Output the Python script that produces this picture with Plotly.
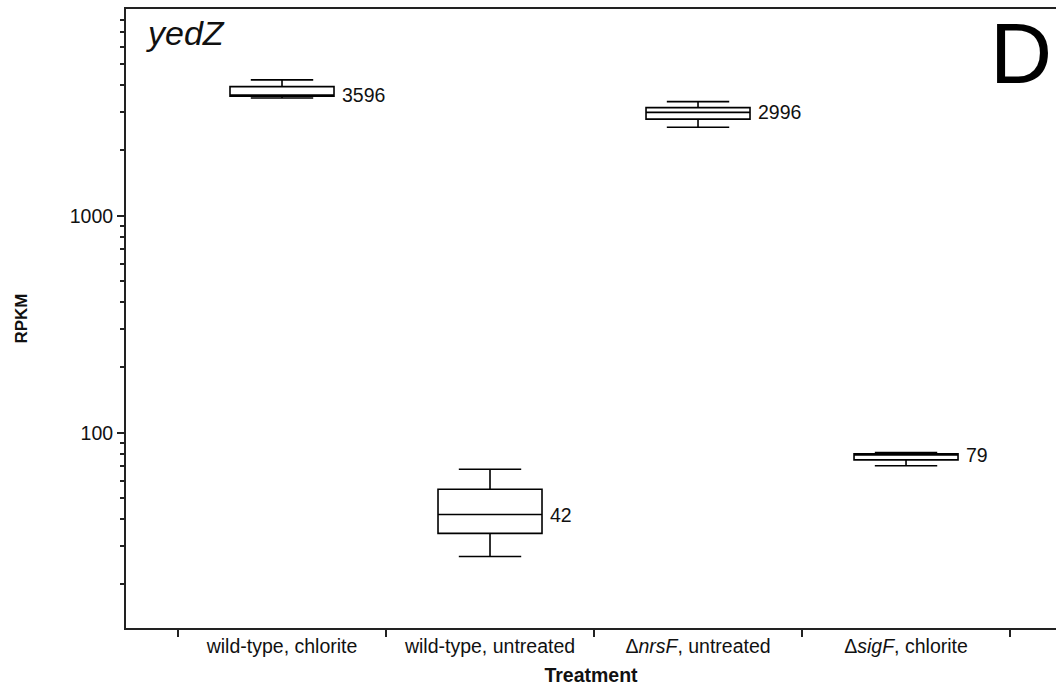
import math
import plotly.graph_objects as go

# Expression of yedZ (RPKM) per treatment: box summary statistics
categories = ["wild-type, chlorite", "wild-type, untreated", "ΔnrsF, untreated", "ΔsigF, chlorite"]
tick_labels = ["wild-type, chlorite", "wild-type, untreated", "Δ<i>nrsF</i>, untreated", "Δ<i>sigF</i>, chlorite"]
lower_fence = [3490, 26.9, 2560, 70.5]
q1 = [3560, 34.4, 2790, 75]
median = [3596, 42, 2996, 79]
q3 = [3940, 54.9, 3150, 80]
upper_fence = [4230, 67.9, 3360, 81]

y_major = [100, 1000]
y_minor = [20, 30, 40, 50, 60, 70, 80, 90,
           200, 300, 400, 500, 600, 700, 800, 900,
           2000, 3000, 4000, 5000, 6000, 7000, 8000]

FONT = "Liberation Sans, Arial, Helvetica, sans-serif"
AXIS = "#222222"
TXT = 19.5

fig = go.Figure()
fig.add_trace(go.Box(
    x=categories,
    q1=q1, median=median, q3=q3,
    lowerfence=lower_fence, upperfence=upper_fence,
    width=0.5,
    fillcolor="white",
    line=dict(color="black", width=1.6),
    whiskerwidth=0.6,
    boxpoints=False,
    showlegend=False,
))

# median value labels to the right of each box
for i, m in enumerate(median):
    fig.add_annotation(
        x=i + 0.25, y=math.log10(m), xref="x", yref="y",
        text=str(m), showarrow=False, xanchor="left", yanchor="middle",
        xshift=6, font=dict(family=FONT, size=TXT, color="#111"),
    )

# gene name and panel letter
fig.add_annotation(
    x=0.019, y=1.0, xref="paper", yref="paper", text="<i>yedZ</i>",
    showarrow=False, xanchor="left", yanchor="top", yshift=-3,
    font=dict(family=FONT, size=34, color="#111"),
)
fig.add_annotation(
    x=1.0, y=1.0, xref="paper", yref="paper", text="D",
    showarrow=False, xanchor="right", yanchor="top", yshift=6, xshift=-2,
    font=dict(family=FONT, size=86, color="black"),
)

fig.update_layout(
    width=1056, height=690,
    margin=dict(l=126, r=0, t=9, b=62),
    paper_bgcolor="white", plot_bgcolor="white",
    font=dict(family=FONT, size=TXT, color="#111"),
    xaxis=dict(
        type="category",
        categoryorder="array", categoryarray=categories,
        tickvals=categories, ticktext=tick_labels,
        tickson="boundaries",
        range=[-0.75, 3.721],
        showline=True, linecolor=AXIS, linewidth=2, mirror=True,
        ticks="outside", ticklen=7, tickwidth=1.5, tickcolor=AXIS,
        showgrid=False, zeroline=False,
        tickfont=dict(family=FONT, size=TXT, color="#111"),
        title=dict(text="<b>Treatment</b>", standoff=12,
                   font=dict(family=FONT, size=TXT, color="#111")),
    ),
    yaxis=dict(
        type="log",
        range=[1.1005, 3.953],
        tickvals=y_major, ticktext=[str(v) for v in y_major],
        showline=True, linecolor=AXIS, linewidth=2, mirror=False,
        ticks="outside", ticklen=7, tickwidth=1.5, tickcolor=AXIS,
        showgrid=False, zeroline=False,
        tickfont=dict(family=FONT, size=TXT, color="#111"),
        minor=dict(tickvals=y_minor, ticks="outside", ticklen=4,
                   tickwidth=1.5, tickcolor=AXIS, showgrid=False),
        title=dict(text="<b>RPKM</b>", standoff=38,
                   font=dict(family=FONT, size=17, color="#111")),
    ),
)

fig.write_html("out.html")
